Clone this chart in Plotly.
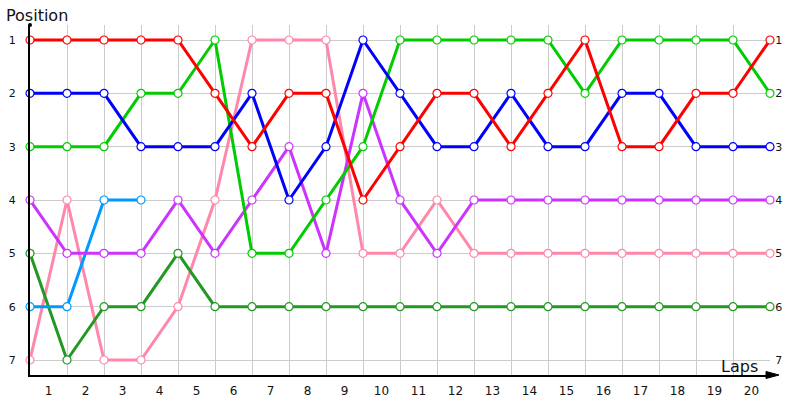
import plotly.graph_objects as go

laps = list(range(0, 21))
lap_labels = [str(i) for i in range(1, 21)]
positions = [1, 2, 3, 4, 5, 6, 7]

red = [1, 1, 1, 1, 1, 2, 3, 2, 2, 4, 3, 2, 2, 3, 2, 1, 3, 3, 2, 2, 1]
blue = [2, 2, 2, 3, 3, 3, 2, 4, 3, 1, 2, 3, 3, 2, 3, 3, 2, 2, 3, 3, 3]
green = [3, 3, 3, 2, 2, 1, 5, 5, 4, 3, 1, 1, 1, 1, 1, 2, 1, 1, 1, 1, 2]
purple = [4, 5, 5, 5, 4, 5, 4, 3, 5, 2, 4, 5, 4, 4, 4, 4, 4, 4, 4, 4, 4]
pink = [7, 4, 7, 7, 6, 4, 1, 1, 1, 5, 5, 4, 5, 5, 5, 5, 5, 5, 5, 5, 5]
lightblue = [6, 6, 4, 4]
darkgreen = [5, 7, 6, 6, 5, 6, 6, 6, 6, 6, 6, 6, 6, 6, 6, 6, 6, 6, 6, 6, 6]

series = [
    ("Pink", pink, "#ff88aa"),
    ("Dark green", darkgreen, "#229922"),
    ("Light blue", lightblue, "#0099ff"),
    ("Purple", purple, "#cc33ff"),
    ("Green", green, "#00cc00"),
    ("Blue", blue, "#0000ff"),
    ("Red", red, "#ff0000"),
]

fig = go.Figure()
for name, vals, col in series:
    fig.add_trace(go.Scatter(
        x=laps[:len(vals)], y=vals, name=name, mode="lines+markers",
        line=dict(color=col, width=3),
        marker=dict(symbol="circle", size=8, color="white", line=dict(color=col, width=1.2)),
        cliponaxis=False, showlegend=False,
    ))

# invisible trace to activate the right-hand position axis
fig.add_trace(go.Scatter(x=[laps[-1]] * len(positions), y=positions, yaxis="y2",
                         mode="markers", marker=dict(opacity=0), hoverinfo="skip",
                         showlegend=False))

W, H = 800, 400
L, R, T, B = 30, 30, 25, 25
pw, ph = W - L - R, H - T - B
unit_y = 53.33
ylo = 1 - 15 / unit_y
yhi = 7 + 15 / unit_y

def px(xp):
    return (xp - L) / pw

def py(yp):
    return (H - B - yp) / ph

font = "DejaVu Sans, Verdana, sans-serif"

fig.update_layout(
    width=W, height=H,
    margin=dict(l=L, r=R, t=T, b=B, autoexpand=False),
    plot_bgcolor="white", paper_bgcolor="white",
    font=dict(family=font, size=11, color="#111"),
    xaxis=dict(
        range=[0, 20], tickmode="array", automargin=False,
        tickvals=[i + 0.5 for i in range(20)], ticktext=lap_labels,
        showgrid=False, zeroline=False,
        showline=True, linecolor="black", linewidth=2,
        ticks="outside", ticklen=4, tickcolor="rgba(0,0,0,0)",
        tickfont=dict(size=12, family=font, color="#111"),
        minor=dict(tickvals=laps, showgrid=True, gridcolor="#cccccc", gridwidth=1, ticks=""),
        fixedrange=True,
    ),
    yaxis=dict(
        range=[yhi, ylo], tickmode="array", tickvals=positions, automargin=False,
        ticktext=[str(p) for p in positions],
        showgrid=True, gridcolor="#cccccc", gridwidth=1, zeroline=False,
        showline=True, linecolor="black", linewidth=2,
        ticks="outside", ticklen=10, tickcolor="rgba(0,0,0,0)",
        tickfont=dict(size=11, family=font, color="#111"),
    ),
    yaxis2=dict(
        range=[yhi, ylo], overlaying="y", side="right", tickmode="array", automargin=False,
        tickvals=positions, ticktext=[str(p) for p in positions],
        showgrid=False, zeroline=False, showline=False,
        ticks="outside", ticklen=2, tickcolor="rgba(0,0,0,0)",
        tickfont=dict(size=11, family=font, color="#111"),
    ),
    shapes=[
        dict(type="path", xref="paper", yref="paper",
             path=f"M {px(766)} {py(371.5)} L {px(779)} {py(375)} L {px(766)} {py(378.5)} Z",
             fillcolor="black", line=dict(color="black", width=1)),
        dict(type="circle", xref="paper", yref="paper",
             x0=px(28), x1=px(32), y0=py(27), y1=py(23),
             fillcolor="black", line=dict(color="black", width=0)),
    ],
    annotations=[
        dict(text="Position", xref="paper", yref="paper", x=px(4), y=py(15),
             xanchor="left", yanchor="middle", showarrow=False,
             font=dict(size=16, family=font, color="#111")),
        dict(text="Laps", xref="paper", yref="paper", x=px(760), y=py(366),
             xanchor="right", yanchor="middle", showarrow=False,
             font=dict(size=16, family=font, color="#111")),
    ],
)

fig.write_html("out.html", config={"displayModeBar": False},
               post_script="document.body.style.margin='0px';document.body.style.overflow='hidden';")
